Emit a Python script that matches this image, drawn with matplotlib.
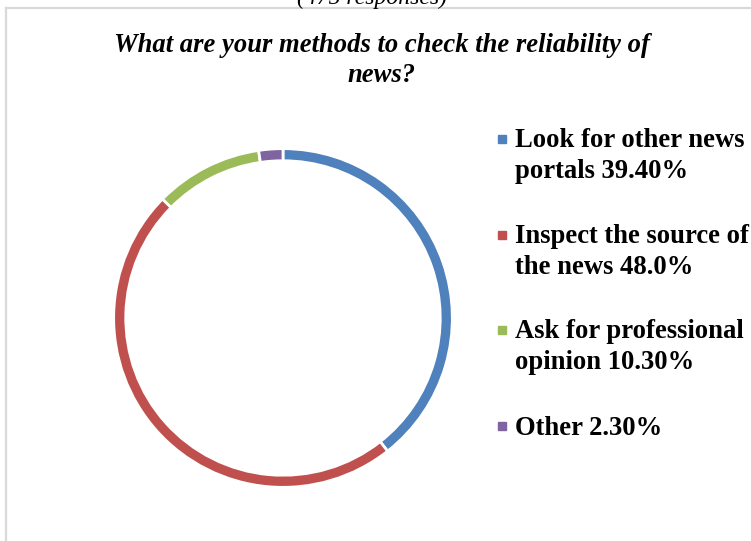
import matplotlib
matplotlib.use("Agg")
import matplotlib.pyplot as plt
from matplotlib.lines import Line2D

# --- data -------------------------------------------------------------
categories = ["Look for other news portals", "Inspect the source of the news",
              "Ask for professional opinion", "Other"]
shares = [39.40, 48.0, 10.30, 2.30]
legend_labels = ["Look for other news\nportals 39.40%",
                 "Inspect the source of\nthe news 48.0%",
                 "Ask for professional\nopinion 10.30%",
                 "Other 2.30%"]
colors = ["#4F81BD", "#C0504D", "#9BBB59", "#8064A2"]

title = "What are your methods to check the reliability of\nnews?"
caption_above = "(475 responses)"

W, H = 751, 541
fig = plt.figure(figsize=(W / 100, H / 100), dpi=100, facecolor="white")

serif = ["Liberation Serif", "DejaVu Serif"]

# chart frame (only left and top edges visible in the crop)
frame_kw = dict(color="#d9d9d9", linewidth=1.6, transform=fig.transFigure)
fig.add_artist(Line2D([5.5 / W, 5.5 / W], [0, 1 - 7.5 / H], **frame_kw))
fig.add_artist(Line2D([5.5 / W, 1], [1 - 7.5 / H, 1 - 7.5 / H], **frame_kw))

# cut-off caption above the chart
fig.text(372 / W, 1 - 4 / H, caption_above, ha="center", va="baseline",
         fontsize=17, style="italic", family=serif)

# title (va='baseline' anchors the last line)
fig.text(382 / W, 1 - 82 / H, title, ha="center", va="baseline",
         fontsize=19.2, weight="bold", style="italic", family=serif,
         linespacing=1.24)

# --- donut ------------------------------------------------------------
cx, cy, r = 283, 318, 168
pad = 172
ax = fig.add_axes([(cx - pad) / W, (H - cy - pad) / H, 2 * pad / W, 2 * pad / H])
# white edges cut the gaps; widen the ring so ~9px of colour stays visible
ax.pie(shares, colors=colors, startangle=90, counterclock=False, radius=1.008,
       wedgeprops=dict(width=0.072, edgecolor="white", linewidth=2.0))
lim = pad / r
ax.set_xlim(-lim, lim)
ax.set_ylim(-lim, lim)
ax.set_aspect("equal")
ax.axis("off")

# --- legend (markers aligned to the first text line, as in the source) --
first_baselines = [148, 244, 339, 435]
line_step = 30
for lab, col, b in zip(legend_labels, colors, first_baselines):
    n_extra = lab.count("\n")
    fig.add_artist(Line2D([501.5 / W], [1 - (b - 9.5) / H], marker="s",
                          markersize=5.2, color=col, linestyle="none",
                          transform=fig.transFigure))
    fig.text(515 / W, 1 - (b + n_extra * line_step) / H, lab, ha="left",
             va="baseline", fontsize=19.2, weight="bold", family=serif,
             linespacing=1.3)

fig.savefig("out.png", dpi=100, facecolor="white")
